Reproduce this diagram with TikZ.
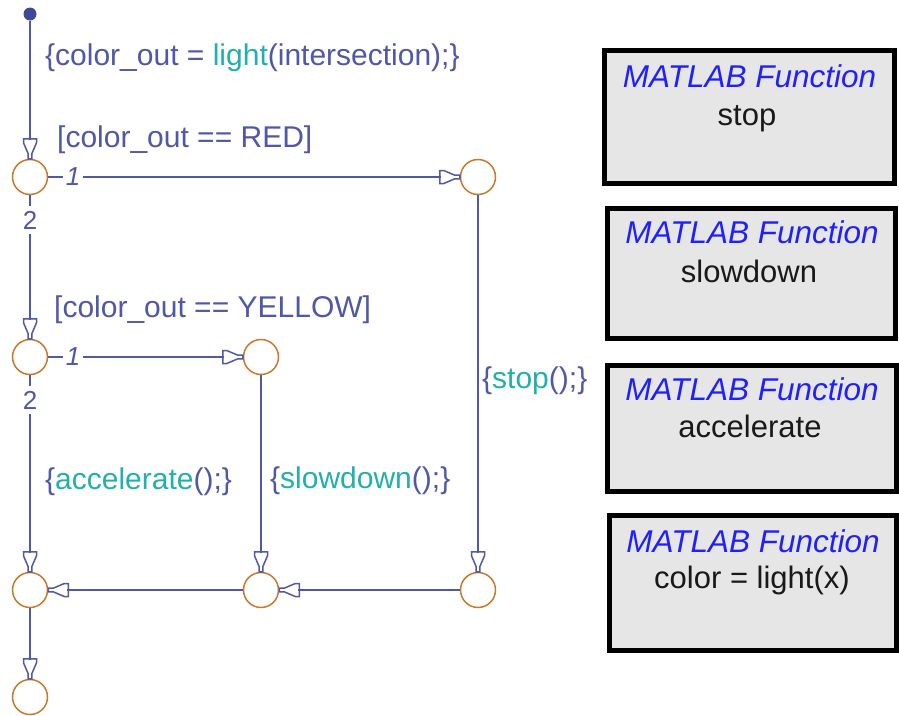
\documentclass[tikz,border=0pt]{standalone}
\usepackage{fontspec}
\setmainfont{Liberation Sans}
\usetikzlibrary{arrows.meta}
\definecolor{lblue}{HTML}{5059A8}
\definecolor{tblue}{HTML}{5057A8}
\definecolor{tealfn}{HTML}{22B0AC}
\definecolor{jorange}{HTML}{C8782A}
\definecolor{mblue}{HTML}{1F1FFF}
\definecolor{boxgray}{HTML}{E6E6E6}
\definecolor{dotblue}{HTML}{3F4796}
\pgfdeclarearrow{
  name = SFtip,
  setup code = {
    \pgfarrowssettipend{0pt}
    \pgfarrowssetlineend{-19pt}
    \pgfarrowssetbackend{-20pt}
    \pgfarrowsupperhullpoint{-20pt}{6.5pt}
    \pgfarrowsupperhullpoint{0pt}{2pt}
  },
  drawing code = {
    \pgfsetdash{}{0pt}
    \pgfsetmiterjoin
    \pgfpathmoveto{\pgfpoint{-20pt}{6.5pt}}
    \pgfpathlineto{\pgfpoint{-16pt}{6.5pt}}
    \pgfpathlineto{\pgfpoint{-5pt}{1.8pt}}
    \pgfpathlineto{\pgfpoint{0pt}{1.8pt}}
    \pgfpathlineto{\pgfpoint{0pt}{-1.8pt}}
    \pgfpathlineto{\pgfpoint{-5pt}{-1.8pt}}
    \pgfpathlineto{\pgfpoint{-16pt}{-6.5pt}}
    \pgfpathlineto{\pgfpoint{-20pt}{-6.5pt}}
    \pgfpathclose
    \pgfusepathqstroke
  }
}
\begin{document}
\begin{tikzpicture}[x=1pt,y=-1pt,
  junc/.style={circle, draw=jorange, line width=1.5pt, minimum size=35pt, inner sep=0pt},
  arr/.style={draw=lblue, line width=1.5pt, -{SFtip}},
  lab/.style={font=\fontsize{30}{36}\selectfont, text=tblue, anchor=base west, inner sep=0pt},
  num/.style={font=\fontsize{26}{30}\selectfont, text=tblue, fill=white, inner xsep=3pt, inner ysep=5pt},
  fbox/.style={draw=black, line width=5pt, fill=boxgray, inner sep=0pt},
  ftitle/.style={font=\fontsize{31.5}{36}\selectfont\itshape, text=mblue, anchor=base, inner sep=0pt},
  fname/.style={font=\fontsize{31}{36}\selectfont, text=black!90, anchor=base, inner sep=0pt},
  fn/.style={text=tealfn}
]
\useasboundingbox[fill=white] (0,0) rectangle (899,715);

% function boxes
\node[fbox, minimum width=290pt, minimum height=133pt] (B1) at (749.5,117) {};
\node[fbox, minimum width=288pt, minimum height=130pt] (B2) at (751.5,273.5) {};
\node[fbox, minimum width=289pt, minimum height=126pt] (B3) at (752,428.5) {};
\node[fbox, minimum width=287pt, minimum height=135pt] (B4) at (753,583) {};
\node[ftitle] (T1) at (749.5,87) {MATLAB Function};
\node[fname] (N1) at (747,125) {stop};
\node[ftitle] (T2) at (752,243) {MATLAB Function};
\node[fname] (N2) at (749,282) {slowdown};
\node[ftitle] (T3) at (752,400) {MATLAB Function};
\node[fname] (N3) at (750,437) {accelerate};
\node[ftitle] (T4) at (753,552) {MATLAB Function};
\node[fname] (N4) at (752,588) {color = light(x)};

% junctions
\node[circle, fill=dotblue, minimum size=13pt, inner sep=0pt] (D) at (30,14) {};
\node[junc] (J1) at (30,177) {};
\node[junc] (J2) at (478,177) {};
\node[junc] (J3) at (30,357) {};
\node[junc] (J4) at (261,357) {};
\node[junc] (J5) at (30,590) {};
\node[junc] (J6) at (261,590) {};
\node[junc] (J7) at (478,590) {};
\node[junc] (J8) at (30,697) {};

% transitions
\draw[arr] (D) -- (J1);
\draw[arr] (J1) -- (J2);
\draw[arr] (J1) -- (J3);
\draw[arr] (J3) -- (J4);
\draw[arr] (J3) -- (J5);
\draw[arr] (J4) -- (J6);
\draw[arr] (J2) -- (J7);
\draw[arr] (J7) -- (J6);
\draw[arr] (J6) -- (J5);
\draw[arr] (J5) -- (J8);

% execution order numbers
\node[num, font=\fontsize{26}{30}\selectfont\itshape] (O11) at (73,177) {1};
\node[num] (O12) at (30,220) {2};
\node[num, font=\fontsize{26}{30}\selectfont\itshape] (O31) at (73,357) {1};
\node[num] (O32) at (30,400) {2};

% labels
\node[lab] (L0) at (45,65) {\{color\_out = {\color{tealfn}light}(intersection);\}};
\node[lab] (L1) at (57,147) {[color\_out == RED]};
\node[lab] (L2) at (54,317) {[color\_out == YELLOW]};
\node[lab] (L3) at (482,388) {\{{\color{tealfn}stop}();\}};
\node[lab] (L4) at (45,489) {\{{\color{tealfn}accelerate}();\}};
\node[lab] (L5) at (270,488) {\{{\color{tealfn}slowdown}();\}};
\end{tikzpicture}
\end{document}
